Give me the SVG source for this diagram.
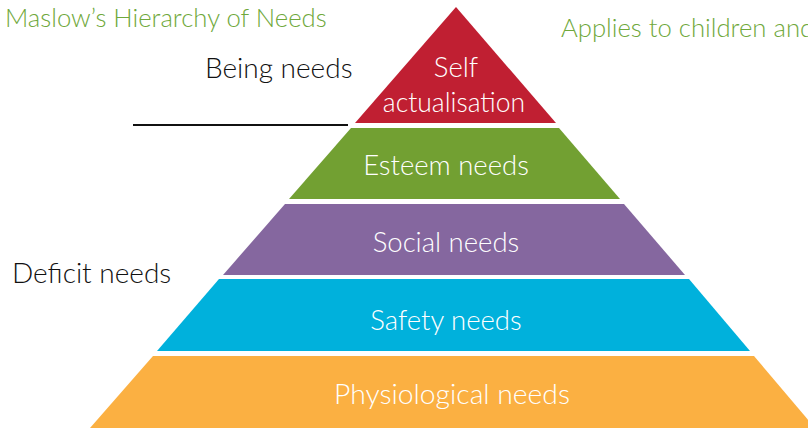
<svg xmlns="http://www.w3.org/2000/svg" width="808" height="428" viewBox="0 0 808 428">
<style>
text{font-family:Lato,"Open Sans","Liberation Sans",sans-serif;font-weight:300}
.w{fill:#ffffff;font-size:27.5px;text-anchor:middle}
.k{fill:#111111;font-size:28px}
.g{fill:#6fa83b;font-size:25.7px}
</style>
<rect width="808" height="428" fill="#ffffff"/>
<g id="title"><text class="g" x="5" y="27">Maslow’s Hierarchy of Needs</text></g>
<g id="note"><text class="g" x="561" y="37">Applies to children and</text></g>
<g id="being"><text class="k" x="205" y="78">Being needs</text></g>
<g id="deficit"><text class="k" x="12" y="283">Deficit needs</text></g>
<g id="connectors"><line x1="133" y1="125" x2="348" y2="125" stroke="#111111" stroke-width="2"/></g>
<g id="self"><polygon points="456,7 355,123 556,123" fill="#c01f32"/><text class="w" x="456" y="77">Self</text><text class="w" x="454" y="112" style="font-size:26.5px">actualisation</text></g>
<g id="esteem"><polygon points="351,128 559,128 620,199 289,199" fill="#72a032"/><text class="w" x="446" y="175">Esteem needs</text></g>
<g id="social"><polygon points="285,204 624,204 685,275 223,275" fill="#85679f"/><text class="w" x="446" y="252">Social needs</text></g>
<g id="safety"><polygon points="219,279 689,279 750,351 157,351" fill="#00b1dc"/><text class="w" x="446" y="330">Safety needs</text></g>
<g id="physio"><polygon points="153,356 754,356 815,428 90,428" fill="#fbb042"/><text class="w" x="452" y="404" style="font-size:28.3px">Physiological needs</text></g>
</svg>
